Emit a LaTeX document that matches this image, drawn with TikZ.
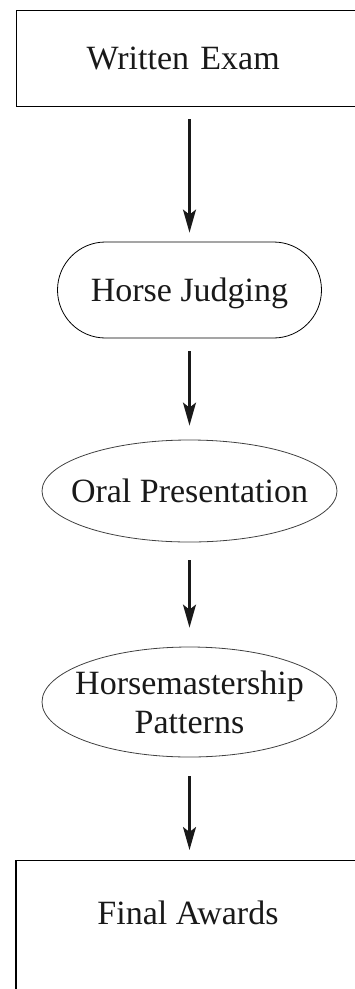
\documentclass[tikz,border=0pt]{standalone}
\usepackage{fontspec}
\setmainfont{Liberation Serif}
\usetikzlibrary{shapes.geometric,arrows.meta}

\begin{document}
\begin{tikzpicture}[x=1pt, y=-1pt, >={Stealth[length=23pt,width=13pt,inset=5pt]},
        every node/.style={font=\fontsize{34}{40}\selectfont, text=black!90, text height=22.5pt, text depth=0pt},
        flow/.style={->, line width=2.2pt, black!90}]
        \clip (0,0) rectangle (355,989);
        \node[draw, line width=1.2pt, anchor=north west, minimum height=96pt, inner xsep=70pt, text width=230pt, align=left] (W) at (16,10) {Written Exam};
        \node[draw, line width=0.8pt, rounded corners=48pt, minimum width=264pt, minimum height=96pt] (H) at (189.5,290) {Horse Judging};
        \node[ellipse, draw, line width=0.8pt, black!75, text=black!90, minimum width=295pt, minimum height=102pt, inner xsep=-20pt, inner ysep=0pt] (O) at (189.5,491) {Oral Presentation};
        \node[ellipse, draw, line width=0.8pt, black!75, text=black!90, minimum width=295pt, minimum height=110pt, inner xsep=-20pt, inner ysep=0pt, align=center, text height={}, text depth={}] (M) at (189.5,702) {Horsemastership\\[-1pt]Patterns};
        \node[draw, line width=1.2pt, anchor=north, minimum width=344pt, inner ysep=40pt, text height=24pt, text depth=110pt] (F) at (188,860) {Final Awards};
        \draw[flow, shorten <=12pt, shorten >=9pt] (W.south -| H.north) -- (H.north);
        \draw[flow, shorten <=13pt, shorten >=14pt] (H.south) -- (O.north);
        \draw[flow, shorten <=18pt, shorten >=19pt] (O.south) -- (M.north);
        \draw[flow, shorten <=19pt, shorten >=10pt] (M.south) -- (M.south |- F.north);
    \end{tikzpicture}
\end{document}
